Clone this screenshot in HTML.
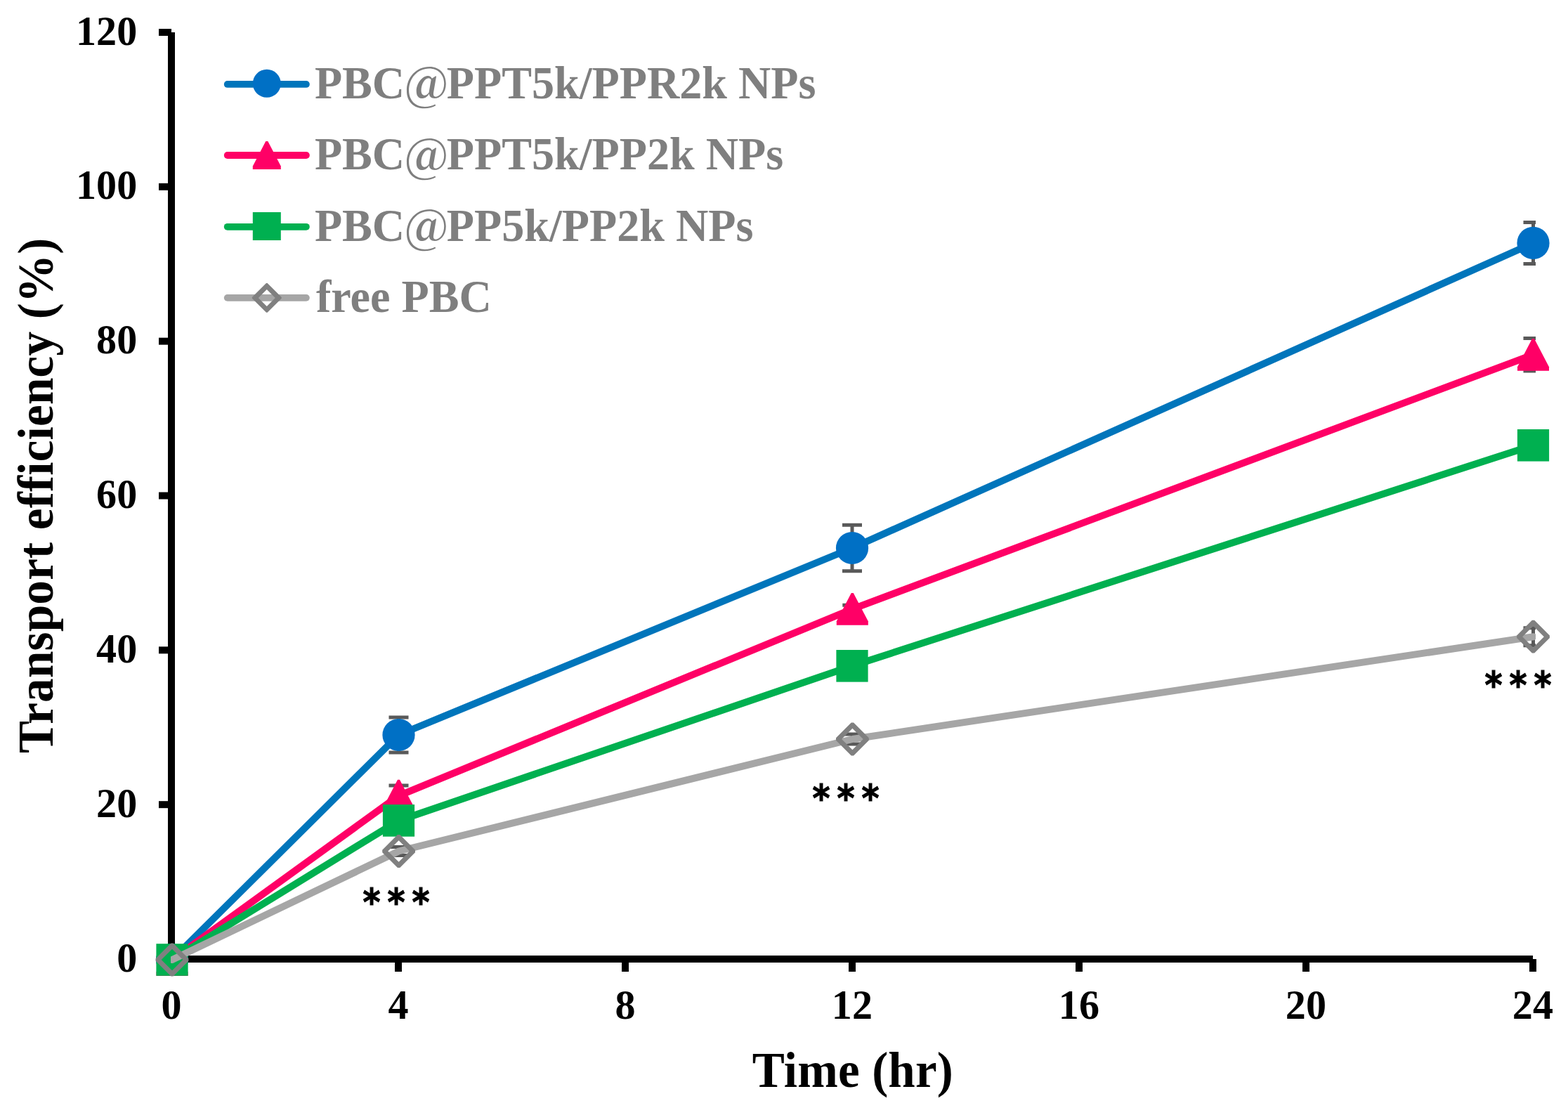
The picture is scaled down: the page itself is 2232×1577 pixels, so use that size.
<!DOCTYPE html>
<html><head><meta charset="utf-8"><title>Transport efficiency</title>
<style>
html,body{margin:0;padding:0;background:#fff;width:2232px;height:1577px;overflow:hidden}
svg{display:block}
text{font-family:"Liberation Serif","Times New Roman",serif;font-weight:bold}
</style></head><body>
<svg width="2232" height="1577" viewBox="0 0 2232 1577">
<defs><clipPath id="pa"><rect x="243" y="0" width="1943" height="1577"/></clipPath></defs>
<rect width="2232" height="1577" fill="#fff"/>
<g id="axes">
<path d="M244 46 V1365 H2182" fill="none" stroke="#000" stroke-width="10" stroke-linejoin="miter" stroke-linecap="butt"/>
<line x1="226" y1="46.00" x2="244" y2="46.00" stroke="#000" stroke-width="10"/>
<line x1="226" y1="265.83" x2="244" y2="265.83" stroke="#000" stroke-width="10"/>
<line x1="226" y1="485.67" x2="244" y2="485.67" stroke="#000" stroke-width="10"/>
<line x1="226" y1="705.50" x2="244" y2="705.50" stroke="#000" stroke-width="10"/>
<line x1="226" y1="925.33" x2="244" y2="925.33" stroke="#000" stroke-width="10"/>
<line x1="226" y1="1145.17" x2="244" y2="1145.17" stroke="#000" stroke-width="10"/>
<line x1="226" y1="1365.00" x2="244" y2="1365.00" stroke="#000" stroke-width="10"/>
<line x1="244.00" y1="1365" x2="244.00" y2="1383" stroke="#000" stroke-width="10"/>
<line x1="567.00" y1="1365" x2="567.00" y2="1383" stroke="#000" stroke-width="10"/>
<line x1="890.00" y1="1365" x2="890.00" y2="1383" stroke="#000" stroke-width="10"/>
<line x1="1213.00" y1="1365" x2="1213.00" y2="1383" stroke="#000" stroke-width="10"/>
<line x1="1536.00" y1="1365" x2="1536.00" y2="1383" stroke="#000" stroke-width="10"/>
<line x1="1859.00" y1="1365" x2="1859.00" y2="1383" stroke="#000" stroke-width="10"/>
<line x1="2182.00" y1="1365" x2="2182.00" y2="1383" stroke="#000" stroke-width="10"/>
</g>
<g id="ticklabels">
<text transform="translate(195.20 63.60) scale(1 1.035)" font-size="58.1" text-anchor="end">120</text>
<text transform="translate(195.20 283.43) scale(1 1.035)" font-size="58.1" text-anchor="end">100</text>
<text transform="translate(195.20 503.27) scale(1 1.035)" font-size="58.1" text-anchor="end">80</text>
<text transform="translate(195.20 723.10) scale(1 1.035)" font-size="58.1" text-anchor="end">60</text>
<text transform="translate(195.20 942.93) scale(1 1.035)" font-size="58.1" text-anchor="end">40</text>
<text transform="translate(195.20 1162.77) scale(1 1.035)" font-size="58.1" text-anchor="end">20</text>
<text transform="translate(195.20 1382.60) scale(1 1.035)" font-size="58.1" text-anchor="end">0</text>
<text transform="translate(243.90 1449.90) scale(1 1.035)" font-size="58.1" text-anchor="middle">0</text>
<text transform="translate(566.90 1449.90) scale(1 1.035)" font-size="58.1" text-anchor="middle">4</text>
<text transform="translate(889.90 1449.90) scale(1 1.035)" font-size="58.1" text-anchor="middle">8</text>
<text transform="translate(1212.90 1449.90) scale(1 1.035)" font-size="58.1" text-anchor="middle">12</text>
<text transform="translate(1535.90 1449.90) scale(1 1.035)" font-size="58.1" text-anchor="middle">16</text>
<text transform="translate(1858.90 1449.90) scale(1 1.035)" font-size="58.1" text-anchor="middle">20</text>
<text transform="translate(2181.90 1449.90) scale(1 1.035)" font-size="58.1" text-anchor="middle">24</text>
</g>
<text transform="translate(1213.80 1546.90) scale(1 1.03)" font-size="69.1" text-anchor="middle" textLength="286.0" lengthAdjust="spacing">Time (hr)</text>
<text transform="translate(75.30 1072.00) rotate(-90) scale(1 1.03)" font-size="69.1" textLength="733.4" lengthAdjust="spacing">Transport efficiency (%)</text>
<g class="series">
<g clip-path="url(#pa)">
<path d="M567.50 1021.00 V1071.00 M553.50 1021.00 H581.50 M553.50 1071.00 H581.50" stroke="#595959" stroke-width="5" fill="none"/>
<path d="M1213.00 747.30 V812.70 M1199.00 747.30 H1227.00 M1199.00 812.70 H1227.00" stroke="#595959" stroke-width="5" fill="none"/>
<path d="M2182.50 316.45 V375.45 M2168.50 316.45 H2196.50 M2168.50 375.45 H2196.50" stroke="#595959" stroke-width="5" fill="none"/>
<path d="M245.00 1366.00 L567.50 1046.00 L1213.00 780.00 L2182.50 345.95" fill="none" stroke="#0075BB" stroke-width="10" stroke-linejoin="round" stroke-linecap="round"/>
</g>
<circle cx="245.00" cy="1366.00" r="23.1" fill="#0070C5"/>
<circle cx="567.50" cy="1046.00" r="23.1" fill="#0070C5"/>
<circle cx="1213.00" cy="780.00" r="23.1" fill="#0070C5"/>
<circle cx="2182.50" cy="345.95" r="23.1" fill="#0070C5"/>
</g>
<g class="series">
<g clip-path="url(#pa)">
<path d="M567.50 1118.10 V1147.10 M553.50 1118.10 H581.50 M553.50 1147.10 H581.50" stroke="#595959" stroke-width="5" fill="none"/>
<path d="M1213.30 861.15 V872.55 M1199.30 861.15 H1227.30 M1199.30 872.55 H1227.30" stroke="#595959" stroke-width="5" fill="none"/>
<path d="M2182.50 481.60 V528.00 M2168.50 481.60 H2196.50 M2168.50 528.00 H2196.50" stroke="#595959" stroke-width="5" fill="none"/>
<path d="M245.00 1366.00 L567.50 1132.60 L1213.30 866.85 L2182.50 504.80" fill="none" stroke="#FF0066" stroke-width="10" stroke-linejoin="round" stroke-linecap="round"/>
</g>
<path d="M243.50 1343.10 L246.50 1343.10 L267.50 1383.48 L267.50 1388.90 L222.50 1388.90 L222.50 1383.48 Z" fill="#FF0066"/>
<path d="M566.00 1109.70 L569.00 1109.70 L590.00 1150.08 L590.00 1155.50 L545.00 1155.50 L545.00 1150.08 Z" fill="#FF0066"/>
<path d="M1211.80 843.95 L1214.80 843.95 L1235.80 884.33 L1235.80 889.75 L1190.80 889.75 L1190.80 884.33 Z" fill="#FF0066"/>
<path d="M2181.00 481.90 L2184.00 481.90 L2205.00 522.28 L2205.00 527.70 L2160.00 527.70 L2160.00 522.28 Z" fill="#FF0066"/>
</g>
<g class="series">
<g clip-path="url(#pa)">
<path d="M567.50 1162.90 V1172.90 M553.50 1162.90 H581.50 M553.50 1172.90 H581.50" stroke="#595959" stroke-width="5" fill="none"/>
<path d="M1213.00 942.80 V952.80 M1199.00 942.80 H1227.00 M1199.00 952.80 H1227.00" stroke="#595959" stroke-width="5" fill="none"/>
<path d="M2182.50 628.80 V638.80 M2168.50 628.80 H2196.50 M2168.50 638.80 H2196.50" stroke="#595959" stroke-width="5" fill="none"/>
<path d="M245.00 1366.00 L567.50 1167.90 L1213.00 947.80 L2182.50 633.80" fill="none" stroke="#00B050" stroke-width="10" stroke-linejoin="round" stroke-linecap="round"/>
</g>
<rect x="222.40" y="1343.20" width="45.2" height="45.6" fill="#00B050"/>
<rect x="544.90" y="1145.10" width="45.2" height="45.6" fill="#00B050"/>
<rect x="1190.40" y="925.00" width="45.2" height="45.6" fill="#00B050"/>
<rect x="2159.90" y="611.00" width="45.2" height="45.6" fill="#00B050"/>
</g>
<g class="series">
<g clip-path="url(#pa)">
<path d="M567.60 1205.40 V1217.60 M553.60 1205.40 H581.60 M553.60 1217.60 H581.60" stroke="#595959" stroke-width="5" fill="none"/>
<path d="M1213.40 1044.90 V1059.10 M1199.40 1044.90 H1227.40 M1199.40 1059.10 H1227.40" stroke="#595959" stroke-width="5" fill="none"/>
<path d="M2182.50 893.70 V918.70 M2168.50 893.70 H2196.50 M2168.50 918.70 H2196.50" stroke="#595959" stroke-width="5" fill="none"/>
<path d="M245.00 1366.00 L567.60 1211.50 L1213.40 1052.00 L2182.50 906.20" fill="none" stroke="#A6A6A6" stroke-width="10" stroke-linejoin="round" stroke-linecap="round"/>
</g>
<path d="M243.32 1342.60 L246.68 1342.60 L268.40 1364.32 L268.40 1367.68 L246.68 1389.40 L243.32 1389.40 L221.60 1367.68 L221.60 1364.32 Z M245.00 1350.68 L260.32 1366.00 L245.00 1381.32 L229.68 1366.00 Z" fill="#808080" fill-rule="evenodd"/>
<path d="M565.92 1188.10 L569.28 1188.10 L591.00 1209.82 L591.00 1213.18 L569.28 1234.90 L565.92 1234.90 L544.20 1213.18 L544.20 1209.82 Z M567.60 1196.18 L582.92 1211.50 L567.60 1226.82 L552.28 1211.50 Z" fill="#808080" fill-rule="evenodd"/>
<path d="M1211.72 1028.60 L1215.08 1028.60 L1236.80 1050.32 L1236.80 1053.68 L1215.08 1075.40 L1211.72 1075.40 L1190.00 1053.68 L1190.00 1050.32 Z M1213.40 1036.68 L1228.72 1052.00 L1213.40 1067.32 L1198.08 1052.00 Z" fill="#808080" fill-rule="evenodd"/>
<path d="M2180.82 882.80 L2184.18 882.80 L2205.90 904.52 L2205.90 907.88 L2184.18 929.60 L2180.82 929.60 L2159.10 907.88 L2159.10 904.52 Z M2182.50 890.88 L2197.82 906.20 L2182.50 921.52 L2167.18 906.20 Z" fill="#808080" fill-rule="evenodd"/>
</g>
<text transform="translate(516.54 1302.84) scale(0.91 1)" font-size="52.6" stroke="#000" stroke-width="1.1" style="font-family:'DejaVu Sans',sans-serif">*</text>
<text transform="translate(551.54 1302.84) scale(0.91 1)" font-size="52.6" stroke="#000" stroke-width="1.1" style="font-family:'DejaVu Sans',sans-serif">*</text>
<text transform="translate(586.54 1302.84) scale(0.91 1)" font-size="52.6" stroke="#000" stroke-width="1.1" style="font-family:'DejaVu Sans',sans-serif">*</text>
<text transform="translate(1156.54 1154.94) scale(0.91 1)" font-size="52.6" stroke="#000" stroke-width="1.1" style="font-family:'DejaVu Sans',sans-serif">*</text>
<text transform="translate(1191.54 1154.94) scale(0.91 1)" font-size="52.6" stroke="#000" stroke-width="1.1" style="font-family:'DejaVu Sans',sans-serif">*</text>
<text transform="translate(1226.54 1154.94) scale(0.91 1)" font-size="52.6" stroke="#000" stroke-width="1.1" style="font-family:'DejaVu Sans',sans-serif">*</text>
<text transform="translate(2113.54 993.94) scale(0.91 1)" font-size="52.6" stroke="#000" stroke-width="1.1" style="font-family:'DejaVu Sans',sans-serif">*</text>
<text transform="translate(2148.54 993.94) scale(0.91 1)" font-size="52.6" stroke="#000" stroke-width="1.1" style="font-family:'DejaVu Sans',sans-serif">*</text>
<text transform="translate(2183.54 993.94) scale(0.91 1)" font-size="52.6" stroke="#000" stroke-width="1.1" style="font-family:'DejaVu Sans',sans-serif">*</text>
<line x1="323.7" y1="119.95" x2="435.9" y2="119.95" stroke="#0075BB" stroke-width="9.8" stroke-linecap="round"/>
<circle cx="379.80" cy="118.85" r="20.0" fill="#0070C5"/>
<text transform="translate(0 139.60) scale(1 1.03)" x="447.9" font-size="64.15" fill="#7F7F7F">PBC<tspan x="575.80" dy="3.3" style="font-family:'Noto Serif CJK SC','Liberation Serif',serif">@</tspan><tspan x="635.87" dy="-3.3">PPT5k/PPR2k NPs</tspan></text>
<line x1="323.7" y1="221.0" x2="435.9" y2="221.0" stroke="#FF0066" stroke-width="9.8" stroke-linecap="round"/>
<path d="M378.30 201.00 L381.30 201.00 L399.80 236.58 L399.80 241.00 L359.80 241.00 L359.80 236.58 Z" fill="#FF0066"/>
<text transform="translate(0 241.30) scale(1 1.03)" x="447.9" font-size="64.15" fill="#7F7F7F">PBC<tspan x="575.80" dy="3.3" style="font-family:'Noto Serif CJK SC','Liberation Serif',serif">@</tspan><tspan x="635.87" dy="-3.3">PPT5k/PP2k NPs</tspan></text>
<line x1="323.7" y1="322.8" x2="435.9" y2="322.8" stroke="#00B050" stroke-width="9.8" stroke-linecap="round"/>
<rect x="359.80" y="302.00" width="40.0" height="40.0" fill="#00B050"/>
<text transform="translate(0 342.70) scale(1 1.03)" x="447.9" font-size="64.15" fill="#7F7F7F">PBC<tspan x="575.80" dy="3.3" style="font-family:'Noto Serif CJK SC','Liberation Serif',serif">@</tspan><tspan x="635.87" dy="-3.3">PP5k/PP2k NPs</tspan></text>
<line x1="323.7" y1="423.85" x2="435.9" y2="423.85" stroke="#A6A6A6" stroke-width="9.8" stroke-linecap="round"/>
<path d="M378.97 402.95 L380.63 402.95 L400.75 423.07 L400.75 424.73 L380.63 444.85 L378.97 444.85 L358.85 424.73 L358.85 423.07 Z M379.80 411.88 L391.82 423.90 L379.80 435.92 L367.78 423.90 Z" fill="#808080" fill-rule="evenodd"/>
<text transform="translate(449.90 444.30) scale(1 1.03)" font-size="64.15" fill="#7F7F7F">free PBC</text>
</svg>
</body></html>
